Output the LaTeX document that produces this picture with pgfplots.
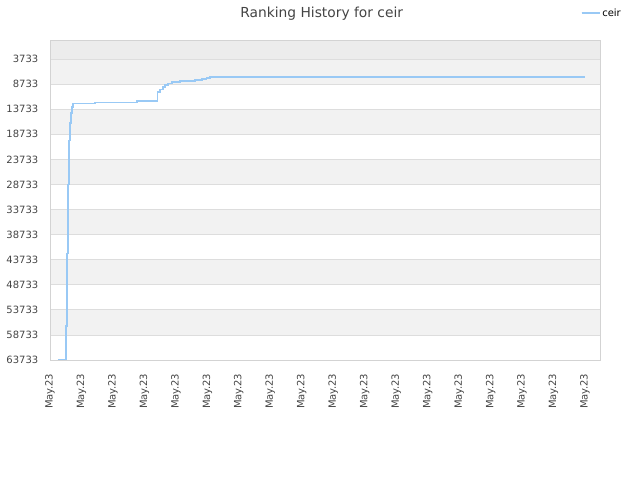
\documentclass[border=0pt]{standalone}
\usepackage{pgfplots}
\pgfplotsset{compat=1.18}
\usepackage{fontspec}
\setmainfont{DejaVu Sans}
\definecolor{linecol}{HTML}{99C9F5}
\definecolor{bandA}{HTML}{F2F2F2}
\definecolor{bandTop}{HTML}{ECECEC}
\definecolor{gridcol}{HTML}{DDDDDD}
\definecolor{axcol}{HTML}{D3D3D3}
\definecolor{txtcol}{HTML}{444444}
\pgfplotsset{band/.style={forget plot, draw=none, fill=#1, on layer=axis background}}
\begin{document}
\begin{tikzpicture}
\begin{axis}[
  set layers,
  at={(50bp,120bp)}, anchor=south west,
  scale only axis, width=550bp, height=320bp,
  xmin=0, xmax=17.477,
  ymin=-67, ymax=63733, y dir=reverse,
  scaled y ticks=false,
  ytick={3733,8733,13733,18733,23733,28733,33733,38733,43733,48733,53733,58733,63733},
  yticklabels={3733,8733,13733,18733,23733,28733,33733,38733,43733,48733,53733,58733,63733},
  xtick={0,...,17},
  xticklabels={May.23,May.23,May.23,May.23,May.23,May.23,May.23,May.23,May.23,May.23,May.23,May.23,May.23,May.23,May.23,May.23,May.23,May.23},
  xticklabel style={rotate=90, anchor=east, font=\fontsize{10bp}{12bp}\selectfont, text=txtcol, inner sep=0pt, xshift=-1bp},
  yticklabel style={font=\fontsize{10bp}{12bp}\selectfont, text=txtcol, inner sep=0pt},
  xticklabel shift=12.5bp, yticklabel shift=11.5bp,
  major tick length=0pt,
  ymajorgrids, grid style={gridcol, line width=0.8bp},
  axis line style={axcol, line width=0.8bp},
  legend style={at={(1.0418,1.084)}, anchor=east, draw=none, fill=none, inner sep=0pt, font=\fontsize{10bp}{12bp}\selectfont, text=black},
  legend image code/.code={\draw[#1] (0bp,0bp) -- (9bp,0bp); \path (0bp,0bp) -- (18bp,0bp);},
  clip=true,
]
\addplot[band=bandTop] coordinates {(0,-67) (17.477,-67) (17.477,3733) (0,3733)} -- cycle;
\addplot[band=bandA] coordinates {(0,3733) (17.477,3733) (17.477,8733) (0,8733)} -- cycle;
\addplot[band=bandA] coordinates {(0,13733) (17.477,13733) (17.477,18733) (0,18733)} -- cycle;
\addplot[band=bandA] coordinates {(0,23733) (17.477,23733) (17.477,28733) (0,28733)} -- cycle;
\addplot[band=bandA] coordinates {(0,33733) (17.477,33733) (17.477,38733) (0,38733)} -- cycle;
\addplot[band=bandA] coordinates {(0,43733) (17.477,43733) (17.477,48733) (0,48733)} -- cycle;
\addplot[band=bandA] coordinates {(0,53733) (17.477,53733) (17.477,58733) (0,58733)} -- cycle;
\addplot[const plot, color=linecol, line width=1.3bp] coordinates {
(0.254,63733) (0.508,56933) (0.540,42533) (0.572,28733) (0.604,20000)
(0.636,16500) (0.667,14500) (0.699,13300) (0.731,12600) (1.430,12333)
(2.765,12073) (3.416,10273) (3.495,9793) (3.591,9333) (3.654,8933)
(3.750,8593) (3.877,8333) (4.131,8133) (4.608,7933) (4.830,7733)
(4.980,7533) (5.084,7333) (17.0,7333)
};
\addlegendentry{ceir}
\end{axis}
\node[text=txtcol, font=\fontsize{13.8bp}{16bp}\selectfont, anchor=base, inner sep=0pt] at (321.7bp,462.7bp) {Ranking History for ceir};
\pgfresetboundingbox
\useasboundingbox (0,0) rectangle (640bp,480bp);
\end{tikzpicture}
\end{document}
